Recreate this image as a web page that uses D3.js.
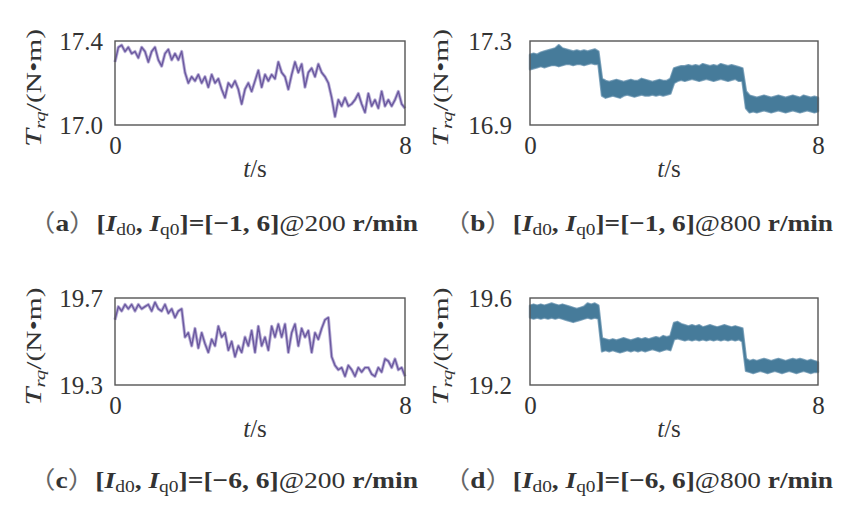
<!DOCTYPE html>
<html>
<head>
<meta charset="utf-8">
<script src="https://cdn.jsdelivr.net/npm/d3@7"></script>
<style>
  body { margin: 0; background: #fff; }
  text { font-family: "Liberation Serif", "Times New Roman", serif; fill: #333; }
</style>
</head>
<body>
<svg id="chart" width="861" height="510"></svg>
<script>
// torque samples (0..8 s, evenly spaced)
var torqueA = [17.30, 17.37, 17.38, 17.35, 17.37, 17.34, 17.35, 17.32, 17.37, 17.35, 17.30, 17.35, 17.37, 17.31, 17.28, 17.34,
  17.36, 17.31, 17.34, 17.31, 17.35, 17.25, 17.20, 17.23, 17.21, 17.24, 17.20, 17.23, 17.18, 17.24, 17.20, 17.22, 17.17, 17.13,
  17.20, 17.18, 17.21, 17.17, 17.10, 17.17, 17.20, 17.16, 17.21, 17.26, 17.18, 17.24, 17.21, 17.24, 17.22, 17.30, 17.25, 17.23,
  17.17, 17.24, 17.30, 17.25, 17.29, 17.18, 17.25, 17.27, 17.23, 17.29, 17.25, 17.23, 17.20, 17.13, 17.04, 17.12, 17.09, 17.13,
  17.09, 17.10, 17.12, 17.15, 17.10, 17.06, 17.15, 17.09, 17.12, 17.08, 17.16, 17.09, 17.12, 17.09, 17.12, 17.16, 17.10, 17.08];

var torqueC = [19.60, 19.66, 19.64, 19.67, 19.65, 19.67, 19.64, 19.67, 19.65, 19.66, 19.67, 19.64, 19.68, 19.65, 19.64, 19.67,
  19.63, 19.65, 19.61, 19.64, 19.65, 19.52, 19.54, 19.48, 19.56, 19.47, 19.54, 19.49, 19.45, 19.51, 19.48, 19.57, 19.52, 19.54,
  19.46, 19.50, 19.43, 19.48, 19.45, 19.52, 19.48, 19.55, 19.45, 19.57, 19.48, 19.52, 19.46, 19.57, 19.52, 19.58, 19.52, 19.58,
  19.45, 19.54, 19.58, 19.48, 19.56, 19.52, 19.55, 19.45, 19.54, 19.51, 19.56, 19.60, 19.61, 19.43, 19.39, 19.37, 19.38, 19.34,
  19.39, 19.37, 19.34, 19.38, 19.36, 19.38, 19.38, 19.35, 19.34, 19.38, 19.36, 19.42, 19.41, 19.38, 19.42, 19.37, 19.38, 19.34];

// 800 r/min traces are dense noise bands: upper / lower envelope every 0.1 s
var bandBUpper = [17.235, 17.24, 17.235, 17.245, 17.25, 17.255, 17.26, 17.265, 17.28, 17.265, 17.26, 17.255, 17.25, 17.255, 17.25, 17.255, 17.25, 17.255, 17.26, 17.25,
  17.12, 17.11, 17.105, 17.11, 17.115, 17.11, 17.105, 17.11, 17.115, 17.11, 17.11, 17.12, 17.115, 17.11, 17.105, 17.11, 17.115, 17.11, 17.11, 17.12,
  17.17, 17.175, 17.18, 17.18, 17.185, 17.18, 17.185, 17.18, 17.19, 17.185, 17.18, 17.185, 17.18, 17.19, 17.185, 17.18, 17.185, 17.18, 17.175, 17.17,
  17.06, 17.04, 17.035, 17.03, 17.035, 17.04, 17.035, 17.03, 17.035, 17.04, 17.035, 17.03, 17.035, 17.04, 17.035, 17.03, 17.04, 17.035, 17.03, 17.035, 17.03];
var bandBLower = [17.165, 17.17, 17.175, 17.18, 17.175, 17.18, 17.185, 17.185, 17.18, 17.185, 17.19, 17.19, 17.185, 17.19, 17.19, 17.185, 17.19, 17.195, 17.19, 17.19,
  17.04, 17.03, 17.035, 17.04, 17.035, 17.03, 17.04, 17.045, 17.04, 17.035, 17.04, 17.045, 17.04, 17.04, 17.045, 17.04, 17.045, 17.04, 17.045, 17.05,
  17.10, 17.11, 17.115, 17.11, 17.115, 17.12, 17.115, 17.11, 17.115, 17.12, 17.115, 17.11, 17.115, 17.12, 17.115, 17.11, 17.115, 17.12, 17.11, 17.11,
  16.98, 16.96, 16.965, 16.96, 16.965, 16.97, 16.965, 16.96, 16.965, 16.97, 16.965, 16.96, 16.965, 16.97, 16.965, 16.96, 16.965, 16.97, 16.965, 16.96, 16.965];

var bandDUpper = [19.565, 19.57, 19.565, 19.57, 19.565, 19.57, 19.575, 19.57, 19.565, 19.57, 19.565, 19.56, 19.555, 19.55, 19.555, 19.56, 19.575, 19.57, 19.575, 19.565,
  19.415, 19.41, 19.405, 19.41, 19.405, 19.41, 19.415, 19.41, 19.405, 19.41, 19.415, 19.41, 19.415, 19.41, 19.415, 19.42, 19.415, 19.425, 19.42, 19.425,
  19.485, 19.49, 19.48, 19.475, 19.47, 19.475, 19.47, 19.475, 19.465, 19.47, 19.475, 19.47, 19.465, 19.47, 19.475, 19.47, 19.465, 19.47, 19.465, 19.46,
  19.32, 19.31, 19.315, 19.31, 19.315, 19.32, 19.315, 19.31, 19.315, 19.32, 19.315, 19.31, 19.315, 19.32, 19.315, 19.32, 19.315, 19.31, 19.315, 19.31, 19.305];
var bandDLower = [19.51, 19.505, 19.51, 19.505, 19.51, 19.505, 19.51, 19.505, 19.51, 19.505, 19.50, 19.495, 19.49, 19.495, 19.50, 19.505, 19.51, 19.505, 19.51, 19.505,
  19.355, 19.36, 19.355, 19.36, 19.355, 19.35, 19.355, 19.36, 19.355, 19.36, 19.355, 19.36, 19.355, 19.36, 19.365, 19.36, 19.355, 19.36, 19.365, 19.36,
  19.41, 19.415, 19.41, 19.405, 19.41, 19.405, 19.41, 19.405, 19.41, 19.405, 19.41, 19.405, 19.41, 19.405, 19.41, 19.405, 19.41, 19.405, 19.41, 19.40,
  19.265, 19.26, 19.255, 19.26, 19.265, 19.26, 19.255, 19.26, 19.265, 19.26, 19.255, 19.26, 19.265, 19.26, 19.255, 19.26, 19.265, 19.26, 19.255, 19.26, 19.26];

// axis ranges / tick labels
var xTicks = [0, 8];
var yTicksA = [17.0, 17.4];
var yTicksB = [16.9, 17.3];
var yTicksC = [19.3, 19.7];
var yTicksD = [19.2, 19.6];

// caption parts
var captionLetters = ["a", "b", "c", "d"];
var captionId0 = ["\u22121", "\u22121", "\u22126", "\u22126"];
var captionSpeed = ["200", "800", "200", "800"];

var purple = "#6b59a0", purpleHalo = "#b9afd6", teal = "#467b9a", tealHalo = "#86a9c0";

var panels = [
  {left: 115, top: 41, right: 405, bottom: 125, ticks: yTicksA, line: torqueA, pad: 12, capX: 28, capY: 231, labX: 41},
  {left: 530, top: 41, right: 818, bottom: 125, ticks: yTicksB, upper: bandBUpper, lower: bandBLower, pad: 18, capX: 443, capY: 231, labX: 448},
  {left: 115, top: 298, right: 405, bottom: 385, ticks: yTicksC, line: torqueC, pad: 12, capX: 28, capY: 488, labX: 41},
  {left: 530, top: 298, right: 818, bottom: 385, ticks: yTicksD, upper: bandDUpper, lower: bandDLower, pad: 18, capX: 443, capY: 488, labX: 448}
];

var svg = d3.select("#chart");

panels.forEach(function(p, k) {
  var x = d3.scaleLinear().domain([0, 8]).range([p.left, p.right]);
  var y = d3.scaleLinear().domain(p.ticks).range([p.bottom, p.top]);
  var g = svg.append("g");

  // data
  if (p.line) {
    var n = p.line.length;
    var line = d3.line()
      .x(function(d, i) { return x(i * 8 / (n - 1)); })
      .y(function(d) { return y(d); });
    // soft halo, then the trace itself
    g.append("path").datum(p.line)
      .attr("fill", "none").attr("stroke", purpleHalo).attr("stroke-width", 3.2)
      .attr("stroke-linejoin", "round").attr("d", line);
    g.append("path").datum(p.line)
      .attr("fill", "none").attr("stroke", purple).attr("stroke-width", 1.4)
      .attr("stroke-linejoin", "round").attr("d", line);
  } else {
    var m = p.upper.length;
    var band = p.upper.map(function(u, i) { return {t: i * 8 / (m - 1), hi: u, lo: p.lower[i]}; });
    var area = d3.area()
      .x(function(d) { return x(d.t); })
      .y0(function(d) { return y(d.lo); })
      .y1(function(d) { return y(d.hi); });
    g.append("path").datum(band)
      .attr("fill", tealHalo).attr("stroke", tealHalo).attr("stroke-width", 2.4)
      .attr("stroke-linejoin", "round").attr("d", area);
    g.append("path").datum(band)
      .attr("fill", teal).attr("stroke", teal).attr("stroke-width", 0.6)
      .attr("stroke-linejoin", "round").attr("d", area);
  }

  // frame
  g.append("rect")
    .attr("x", p.left).attr("y", p.top)
    .attr("width", p.right - p.left).attr("height", p.bottom - p.top)
    .attr("fill", "none").attr("stroke", "#555").attr("stroke-width", 1.4);

  // axes (labels only)
  var ya = g.append("g")
    .attr("transform", "translate(" + p.left + ",0)")
    .call(d3.axisLeft(y).tickValues(p.ticks).tickSize(0).tickPadding(p.pad).tickFormat(d3.format(".1f")));
  var xa = g.append("g")
    .attr("transform", "translate(0," + p.bottom + ")")
    .call(d3.axisBottom(x).tickValues(xTicks).tickSize(0).tickPadding(11).tickFormat(d3.format("d")));
  [ya, xa].forEach(function(a) {
    a.select(".domain").remove();
    a.selectAll("text").attr("font-family", "Liberation Serif").attr("font-size", 25).attr("fill", "#333");
  });

  // x title
  var xt = g.append("text")
    .attr("x", (p.left + p.right) / 2 - 5)
    .attr("y", p.bottom + 52)
    .attr("text-anchor", "middle")
    .attr("font-size", 25);
  xt.append("tspan").attr("font-style", "italic").text("t");
  xt.append("tspan").text("/s");

  // y title
  var yt = g.append("text")
    .attr("transform", "translate(" + p.labX + "," + ((p.top + p.bottom) / 2 + 5) + ") rotate(-90)")
    .attr("text-anchor", "middle")
    .attr("font-size", 21)
    .attr("textLength", 118)
    .attr("lengthAdjust", "spacingAndGlyphs");
  yt.append("tspan").attr("font-style", "italic").attr("font-size", 23).text("T");
  yt.append("tspan").attr("font-style", "italic").attr("font-size", 15).attr("dy", 4).text("rq");
  yt.append("tspan").attr("dy", -4).text("/(N\u2022m)");

  // caption
  var cap = svg.append("text")
    .attr("x", p.capX).attr("y", p.capY)
    .attr("font-size", 24)
    .attr("textLength", 390)
    .attr("lengthAdjust", "spacingAndGlyphs");
  cap.append("tspan").attr("font-family", "Noto Sans CJK SC").attr("fill", "#666").text("\uFF08");
  cap.append("tspan").attr("font-weight", "bold").text(captionLetters[k]);
  cap.append("tspan").attr("font-family", "Noto Sans CJK SC").attr("fill", "#666").text("\uFF09");
  cap.append("tspan").attr("font-weight", "bold").text("[");
  cap.append("tspan").attr("font-weight", "bold").attr("font-style", "italic").text("I");
  cap.append("tspan").attr("font-size", 17).attr("dy", 4).text("d0");
  cap.append("tspan").attr("font-weight", "bold").attr("dy", -4).text(", ");
  cap.append("tspan").attr("font-weight", "bold").attr("font-style", "italic").text("I");
  cap.append("tspan").attr("font-size", 17).attr("dy", 4).text("q0");
  cap.append("tspan").attr("font-weight", "bold").attr("dy", -4).text("]=[" + captionId0[k] + ", 6]");
  cap.append("tspan").text("@" + captionSpeed[k] + " ");
  cap.append("tspan").attr("font-weight", "bold").text("r/min");
});
</script>
</body>
</html>
